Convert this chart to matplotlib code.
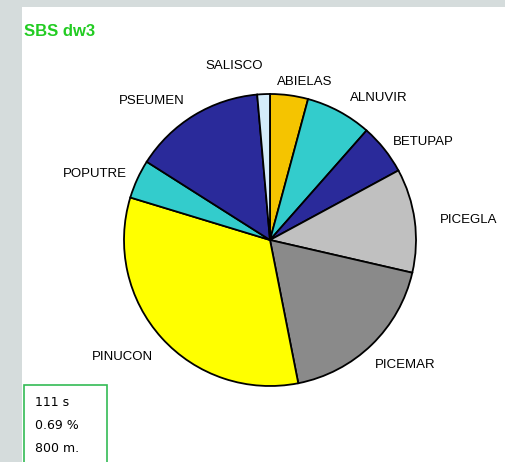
import matplotlib
matplotlib.use("Agg")
import matplotlib.pyplot as plt
from matplotlib.patches import Rectangle

title = "SBS dw3"
species = ["ABIELAS", "ALNUVIR", "BETUPAP", "PICEGLA", "PICEMAR",
           "PINUCON", "POPUTRE", "PSEUMEN", "SALISCO"]
shares = [4.2, 7.3, 5.6, 11.5, 18.3, 32.8, 4.3, 14.6, 1.4]
colors = ["#f5c400", "#33cccc", "#2a2a9a", "#c0c0c0", "#8a8a8a",
          "#ffff00", "#33cccc", "#2a2a9a", "#d4ecfa"]
info_lines = ["111 s", "0.69 %", "800 m."]

# label nudges in pixels (right, down) to mimic the original layout
label_nudge = [(-15, 4), (3, 2), (-5, 4), (8, 2), (-9, 8),
               (4, 7), (5, 2), (0, 1), (0, -11)]

W, H = 505, 462
fig = plt.figure(figsize=(W / 100, H / 100), dpi=100)
fig.patch.set_facecolor("#d5dcdc")
fig.patches.append(Rectangle((22 / W, 0), 1 - 22 / W, 1 - 7 / H,
                             transform=fig.transFigure, facecolor="white",
                             edgecolor="none", zorder=0))

ax = fig.add_axes([0, 0, 1, 1])
ax.set_zorder(2)
ax.set_facecolor("none")
cx, cy, R = 270, 240, 146

wedges, texts = ax.pie(shares, labels=species, colors=colors,
                       startangle=90, counterclock=False, radius=1.0,
                       labeldistance=1.12,
                       wedgeprops=dict(edgecolor="black", linewidth=1.3),
                       textprops=dict(fontsize=9.5, family="Liberation Sans"))
for t, (dx, dy) in zip(texts, label_nudge):
    x, y = t.get_position()
    t.set_position((x + dx / R, y - dy / R))

ax.set_xlim(-cx / R, (W - cx) / R)
ax.set_ylim(-(H - cy) / R, cy / R)
ax.set_aspect("auto")
ax.axis("off")

fig.text(24 / W, 1 - 32 / H, title, color="#22cc22", fontsize=12,
         fontweight="bold", family="Liberation Sans", va="center", ha="left",
         zorder=3)

fig.patches.append(Rectangle((24 / W, -0.01), (107 - 24) / W, (462 - 385) / H + 0.01,
                             transform=fig.transFigure, facecolor="white",
                             edgecolor="#33bb55", linewidth=1.2, zorder=3))
for i, line in enumerate(info_lines):
    fig.text(35 / W, 1 - (402 + 23.5 * i) / H, line, fontsize=9,
             family="DejaVu Sans", va="center", ha="left", zorder=4)

fig.savefig("out.png", dpi=100, facecolor=fig.get_facecolor())
